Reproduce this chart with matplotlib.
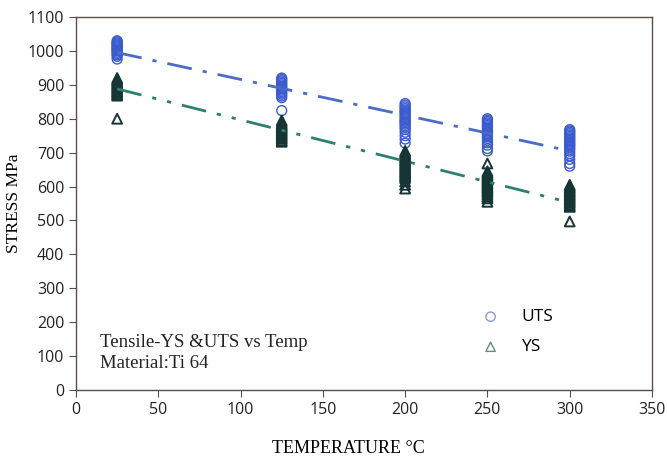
import matplotlib
matplotlib.use("Agg")
import matplotlib.pyplot as plt
import numpy as np

# ---- data ----
temps = [25, 125, 200, 250, 300]
uts_values = [
    [1030, 1027, 1024, 1021, 1018, 1015, 1012, 1009, 1006, 1003, 1000, 996, 992, 988, 984, 976],
    [920, 916, 912, 908, 904, 900, 896, 892, 888, 884, 880, 876, 872, 867, 862, 824],
    [845, 840, 835, 830, 826, 822, 818, 814, 810, 805, 800, 796, 792, 788, 784, 779, 774, 768, 760, 750, 740, 728],
    [800, 796, 792, 788, 784, 780, 776, 772, 768, 764, 760, 756, 752, 747, 742, 736, 729, 722, 712, 705],
    [768, 764, 760, 756, 752, 748, 744, 740, 736, 732, 728, 724, 720, 715, 710, 704, 697, 690, 680, 668, 660],
]
ys_values = [
    [920, 916, 912, 908, 904, 900, 896, 892, 888, 884, 880, 876, 872, 868, 800],
    [795, 790, 785, 781, 777, 773, 769, 765, 761, 757, 753, 749, 745, 741, 736, 732],
    [705, 701, 697, 693, 689, 685, 681, 677, 673, 669, 665, 661, 657, 653, 649, 645, 641, 637, 633, 629, 625, 615, 605, 594],
    [668, 645, 641, 637, 633, 629, 625, 621, 617, 613, 609, 605, 601, 597, 593, 589, 585, 580, 575, 570, 565, 555],
    [605, 601, 597, 593, 589, 585, 581, 577, 573, 569, 565, 561, 557, 553, 548, 543, 540, 497],
]
trend_x = [25, 300]
uts_trend = [995, 705]
ys_trend = [888, 553]

x_ticks = [0, 50, 100, 150, 200, 250, 300, 350]
y_ticks = [0, 100, 200, 300, 400, 500, 600, 700, 800, 900, 1000, 1100]

# ---- figure ----
fig = plt.figure(figsize=(6.67, 4.58), dpi=100)
ax = fig.add_axes([76/667, 1 - 390/458, (652-76)/667, (390-17)/458])

uts_col = "#3a5cd0"
ys_col = "#163636"

for t, vals in zip(temps, uts_values):
    ax.scatter([t]*len(vals), vals, s=50, marker="o", facecolors="none",
               edgecolors=uts_col, linewidths=1.0, zorder=3)
for t, vals in zip(temps, ys_values):
    ax.scatter([t]*len(vals), vals, s=50, marker="^", facecolors="none",
               edgecolors=ys_col, linewidths=1.4, zorder=3)

ax.plot(trend_x, uts_trend, color="#4a6cc8", lw=2.0, dashes=(9, 4, 1.5, 4), zorder=4)
ax.plot(trend_x, ys_trend, color="#2b8070", lw=2.0, dashes=(9, 4, 1.5, 4, 1.5, 4), zorder=4)

ax.set_xlim(0, 350)
ax.set_ylim(0, 1100)
ax.set_xticks(x_ticks)
ax.set_yticks(y_ticks)

spine_col = "#5a4c4c"
for s in ax.spines.values():
    s.set_color(spine_col)
    s.set_linewidth(1.0)
ax.tick_params(axis="both", direction="out", length=5, color=spine_col,
               labelsize=11.5, labelcolor="#222222")
for lab in ax.get_xticklabels() + ax.get_yticklabels():
    lab.set_family(["Open Sans", "DejaVu Sans"])

ax.set_xlabel("TEMPERATURE °C", family="Liberation Serif", fontsize=13, labelpad=16)
ax.xaxis.set_label_coords((348-76)/576, -0.135)
ax.set_ylabel("STRESS MPa", family="Liberation Serif", fontsize=12.5, labelpad=4)

ax.text(0.042, 0.10, "Tensile-YS &UTS vs Temp\nMaterial:Ti 64", transform=ax.transAxes,
        family="Liberation Serif", fontsize=13.5, color="#222222", linespacing=1.3,
        va="center", ha="left")

h1 = ax.scatter([], [], s=45, marker="o", facecolors="none", edgecolors="#8a9ad0", linewidths=1.0)
h2 = ax.scatter([], [], s=45, marker="^", facecolors="none", edgecolors="#6a8a88", linewidths=1.0)
leg = ax.legend([h1, h2], ["UTS", "YS"], loc="center left",
                bbox_to_anchor=(0.67, 0.155), frameon=False,
                prop={"family": ["Open Sans", "DejaVu Sans"], "size": 12.5},
                handletextpad=1.0, labelspacing=0.8, handlelength=1.5)

fig.savefig("out.png", dpi=100)
